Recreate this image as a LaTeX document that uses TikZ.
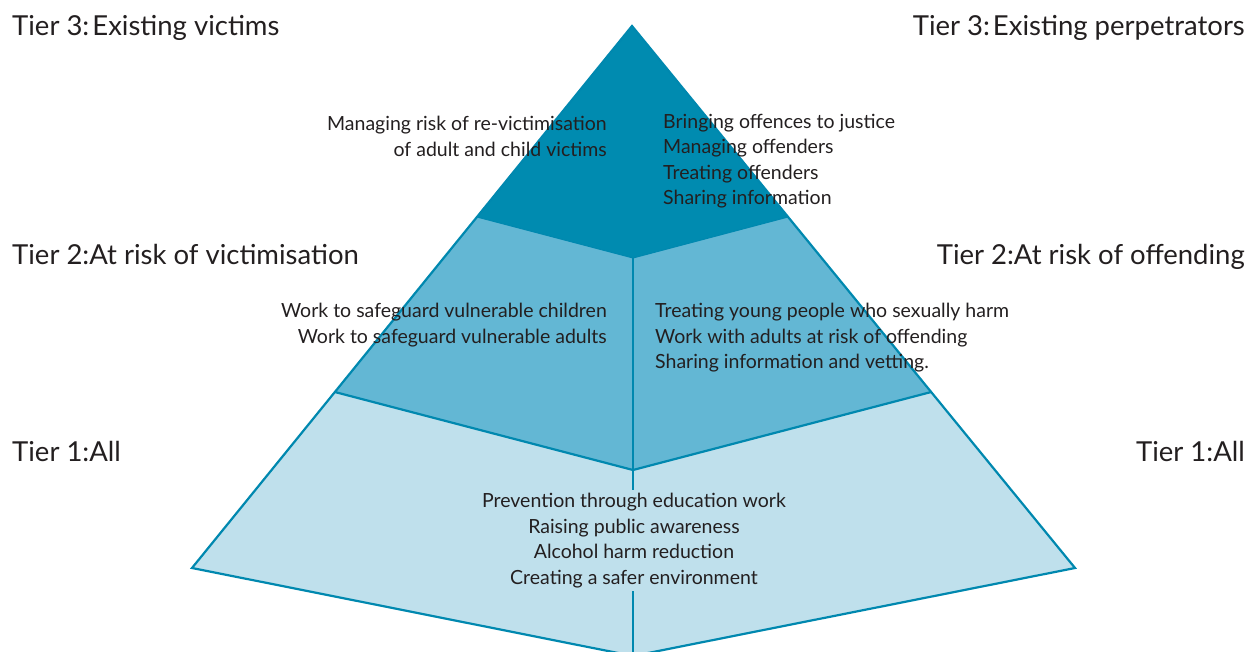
\documentclass[tikz,border=0pt]{standalone}
\usepackage{fontspec}
\setmainfont{Lato}
\usetikzlibrary{calc}
\definecolor{tthree}{HTML}{008BB0}
\definecolor{ttwo}{HTML}{63B7D4}
\definecolor{tone}{HTML}{BFE0EC}
\definecolor{edgec}{HTML}{0088AF}
\definecolor{ink}{HTML}{231F20}
\begin{document}
\begin{tikzpicture}[x=1pt,y=-1pt,
  tierlabel/.style={font=\fontsize{27.5}{30}\selectfont, text=ink, inner sep=0pt},
  body/.style={font=\fontsize{19.5}{25.5}\selectfont, text=ink, inner sep=0pt},
  edgeline/.style={draw=edgec, line width=2.2pt, line join=miter}]
\useasboundingbox (0,0) rectangle (1247,652);
\coordinate (A) at (632,26);
\coordinate (BL) at (192,568);
\coordinate (BR) at (1075,568);
\coordinate (BC) at (633,656);
\coordinate (L1) at ($(A)!0.3524!(BL)$);
\coordinate (R1) at ($(A)!0.3524!(BR)$);
\coordinate (L2) at ($(A)!0.6753!(BL)$);
\coordinate (R2) at ($(A)!0.6753!(BR)$);
\coordinate (C1) at (633,258);
\coordinate (C2) at (633,470);
\begin{scope}
\clip (0,0) rectangle (1247,652);
\fill[tone] (BL) -- (L2) -- (C2) -- (R2) -- (BR) -- (BC) -- cycle;
\fill[ttwo] (L2) -- (L1) -- (C1) -- (R1) -- (R2) -- (C2) -- cycle;
\fill[tthree] (A) -- (L1) -- (C1) -- (R1) -- cycle;
\draw[edgeline] (A) -- (BL) -- (BC) -- (BR) -- cycle;
\draw[edgeline, line width=1pt] (L1) -- (C1) -- (R1);
\draw[edgeline] (L2) -- (C2) -- (R2);
\draw[edgeline] (C1) -- (BC);
\end{scope}
% tier labels
\node[tierlabel, anchor=base west] (t3l) at (12,36) {Tier 3:\hspace{3pt}Existing victims};
\node[tierlabel, anchor=base east] (t3r) at (1245,36) {Tier 3:\hspace{3pt}Existing perpetrators};
\node[tierlabel, anchor=base west] (t2l) at (12,265) {Tier 2:At risk of victimisation};
\node[tierlabel, anchor=base east] (t2r) at (1245,265) {Tier 2:At risk of offending};
\node[tierlabel, anchor=base west] (t1l) at (12,461) {Tier 1:All};
\node[tierlabel, anchor=base east] (t1r) at (1245,461) {Tier 1:All};
% body texts
\node[body, align=right, anchor=north east] (b3l) at (607,116) {Managing risk of re-victimisation\\of adult and child victims};
\node[body, align=left, anchor=north west] (b3r) at (663,114) {Bringing offences to justice\\Managing offenders\\Treating offenders\\Sharing information};
\node[body, align=right, anchor=north east] (b2l) at (607,303) {Work to safeguard vulnerable children\\Work to safeguard vulnerable adults};
\node[body, align=left, anchor=north west] (b2r) at (655,303) {Treating young people who sexually harm\\Work with adults at risk of offending\\Sharing information and vetting.};
\node[body, align=center, anchor=north, fill=tone, inner ysep=3pt] (b1) at (634,490) {Prevention through education work\\Raising public awareness\\Alcohol harm reduction\\Creating a safer environment};
\end{tikzpicture}
\end{document}
